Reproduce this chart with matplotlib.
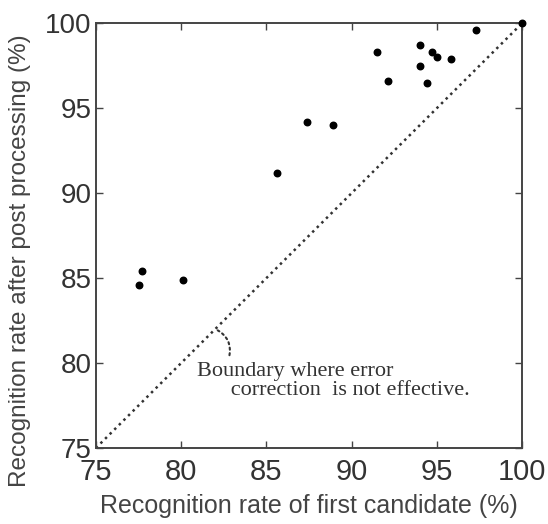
import matplotlib.pyplot as plt
import numpy as np

# recognition rate of first candidate (%)
first_rate = [77.5, 77.7, 80.1, 85.6, 87.4, 88.9, 91.5, 92.1, 94.0, 94.0,
              94.4, 94.7, 95.0, 95.8, 97.3, 100.0]
# recognition rate after post processing (%)
post_rate = [84.6, 85.4, 84.9, 91.2, 94.2, 94.0, 98.3, 96.6, 98.7, 97.5,
             96.5, 98.3, 98.0, 97.9, 99.6, 100.0]

ticks = [75, 80, 85, 90, 95, 100]

plt.rcParams['font.family'] = ['Liberation Sans', 'DejaVu Sans']

fig = plt.figure(figsize=(5.48, 5.24), dpi=100)
ax = fig.add_axes([0.175, 0.145, 0.778, 0.811])

# boundary y = x
ax.plot([75, 100], [75, 100], color='#333333', lw=1.8, linestyle=(0, (1, 1.6)))
ax.scatter(first_rate, post_rate, s=22, color='black', zorder=3, clip_on=False)

ax.set_xlim(75, 100)
ax.set_ylim(75, 100)
ax.set_xticks(ticks)
ax.set_yticks(ticks)
ax.tick_params(direction='in', length=5, width=1, top=True, right=True,
               color='#444444')
ax.tick_params(axis='x', labelsize=21, pad=7)
ax.tick_params(axis='y', labelsize=20, pad=3)
for lab in ax.get_xticklabels() + ax.get_yticklabels():
    lab.set_color('#333333')
for s in ax.spines.values():
    s.set_linewidth(1.4)
    s.set_color('#444444')

ax.set_xlabel("Recognition rate of first candidate (%)", fontsize=18,
              color='#444444', labelpad=6)
ax.set_ylabel("Recognition rate after post processing (%)", fontsize=17.5,
              color='#444444')
ax.yaxis.set_label_coords(-0.152, 0.44)

ax.annotate("", xy=(82.0, 82.0), xytext=(82.8, 80.3),
            arrowprops=dict(arrowstyle='-', linestyle=':', lw=1.5, color='#333333',
                            connectionstyle='arc3,rad=0.4'))
ax.text(80.9, 80.05, "Boundary where error\n      correction  is not effective.",
        fontsize=16, family=['Liberation Serif', 'DejaVu Serif'],
        color='#333333', va='top', ha='left', linespacing=1.0)

plt.savefig("out.png", dpi=100)
